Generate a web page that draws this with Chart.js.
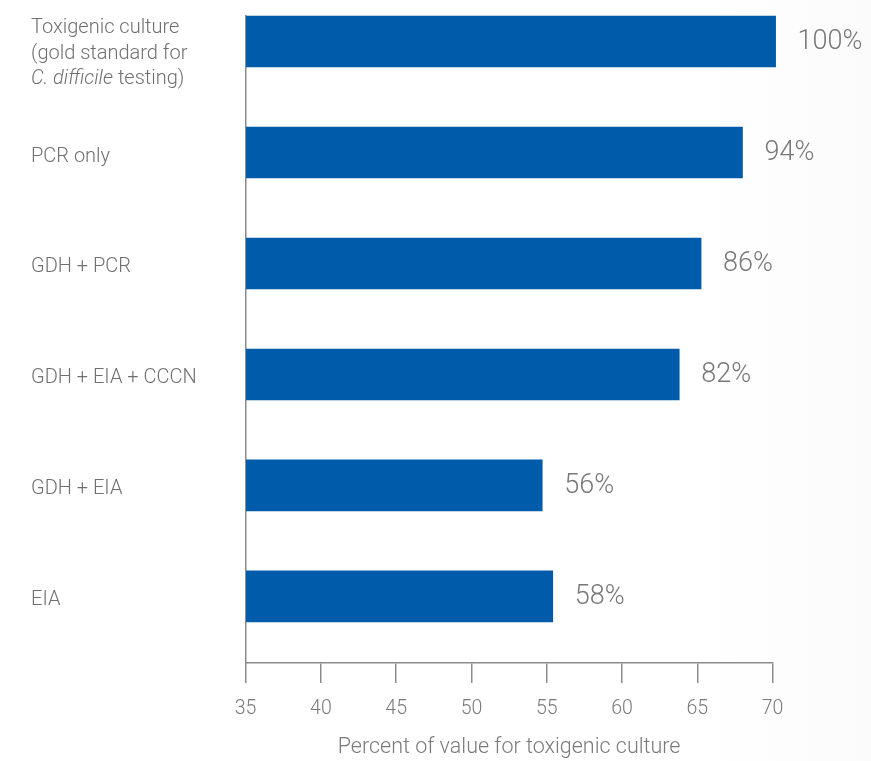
<!DOCTYPE html>
<html>
<head>
<meta charset="utf-8">
<script src="https://cdn.jsdelivr.net/npm/chart.js@4"></script>
<style>
  html, body { margin: 0; padding: 0; background: #fff; }
  #wrap { width: 871px; height: 761px; }
</style>
</head>
<body>
<div id="wrap"><canvas id="barChart"></canvas></div>
<script>
// categories, one array per label line; *...* marks italic text
const categories = [
    ['Toxigenic culture', '(gold standard for', '*C. difficile* testing)'],
    ['PCR only'],
    ['GDH + PCR'],
    ['GDH + EIA + CCCN'],
    ['GDH + EIA'],
    ['EIA']
];
// bar lengths
const barValues = [70.2, 68.0, 65.25, 63.8, 54.7, 55.4];
// printed value labels
const valueLabels = ['100%', '94%', '86%', '82%', '56%', '58%'];
const axisMin = 35;
const axisMax = 70;
const axisStep = 5;
const axisTitle = 'Percent of value for toxigenic culture';

const FONT = 'Roboto, "DejaVu Sans", sans-serif';
const TEXT_GREY = '#707070';
const AXIS_GREY = '#8c8c8c';

// faint grey wash on the right side of the picture
const backgroundWash = {
    id: 'backgroundWash',
    beforeDraw(chart) {
        const c = chart.ctx;
        const w = chart.width, h = chart.height;
        c.save();
        c.fillStyle = '#ffffff';
        c.fillRect(0, 0, w, h);
        const g = c.createLinearGradient(700, 0, w, 0);
        g.addColorStop(0, 'rgba(0,0,0,0)');
        g.addColorStop(1, 'rgba(0,0,0,0.015)');
        c.fillStyle = g;
        c.fillRect(700, 0, w - 700, h);
        c.restore();
    }
};

// category labels on the left, with italic runs
const categoryLabels = {
    id: 'categoryLabels',
    afterDraw(chart) {
        const c = chart.ctx;
        const yScale = chart.scales.y;
        const lineH = 25.5;
        c.save();
        c.fillStyle = TEXT_GREY;
        c.textBaseline = 'alphabetic';
        c.textAlign = 'left';
        categories.forEach((lines, i) => {
            const center = yScale.getPixelForValue(i);
            const n = lines.length;
            const first = n > 1 ? center - 15.5 : center + 2;
            lines.forEach((line, j) => {
                const base = first + j * lineH + 7;
                let x = 31;
                line.split('*').forEach((part, k) => {
                    if (!part) return;
                    c.font = (k % 2 ? 'italic ' : '') + '300 20px ' + FONT;
                    c.fillText(part, x, base);
                    x += c.measureText(part).width;
                });
            });
        });
        c.restore();
    }
};

// value labels to the right of each bar
const barValueLabels = {
    id: 'barValueLabels',
    afterDatasetsDraw(chart) {
        const c = chart.ctx;
        const meta = chart.getDatasetMeta(0);
        c.save();
        c.fillStyle = '#787878';
        c.font = '300 27px ' + FONT;
        c.textBaseline = 'alphabetic';
        c.textAlign = 'left';
        meta.data.forEach((bar, i) => {
            c.fillText(valueLabels[i], bar.x + 22, bar.y + 7.5);
        });
        c.restore();
    }
};

document.addEventListener('DOMContentLoaded', function() {
    const ctx = document.getElementById('barChart').getContext('2d');

    new Chart(ctx, {
        type: 'bar',
        data: {
            datasets: [{
                data: barValues.map((v, i) => ({ x: v, y: i })),
                backgroundColor: '#005BAA',
                borderWidth: 0,
                barThickness: 51,
                base: axisMin,
                clip: false
            }]
        },
        options: {
            indexAxis: 'y',
            responsive: true,
            maintainAspectRatio: false,
            animation: false,
            layout: {
                padding: { left: 245.6, right: 98.4, top: 16, bottom: 0 }
            },
            plugins: {
                legend: { display: false },
                tooltip: { enabled: false }
            },
            scales: {
                x: {
                    type: 'linear',
                    min: axisMin,
                    max: axisMax,
                    afterFit: function(scale) { scale.height = 98; },
                    ticks: {
                        stepSize: axisStep,
                        color: '#7a7a7a',
                        padding: 14,
                        font: { family: FONT, size: 19.5, weight: 300 }
                    },
                    grid: {
                        drawOnChartArea: false,
                        drawTicks: true,
                        tickLength: 20,
                        color: AXIS_GREY,
                        lineWidth: 1.5
                    },
                    border: { color: AXIS_GREY, width: 1.5 },
                    title: {
                        display: true,
                        text: axisTitle,
                        color: '#7a7a7a',
                        padding: { top: 17, bottom: 0 },
                        font: { family: FONT, size: 21.5, weight: 300 }
                    }
                },
                y: {
                    type: 'linear',
                    min: -0.23,
                    max: 5.6,
                    reverse: true,
                    offset: false,
                    afterFit: function(scale) { scale.width = 0; },
                    ticks: { display: false },
                    grid: { display: false },
                    border: { color: AXIS_GREY, width: 1.5 }
                }
            }
        },
        plugins: [backgroundWash, barValueLabels, categoryLabels]
    });
});
</script>
</body>
</html>
